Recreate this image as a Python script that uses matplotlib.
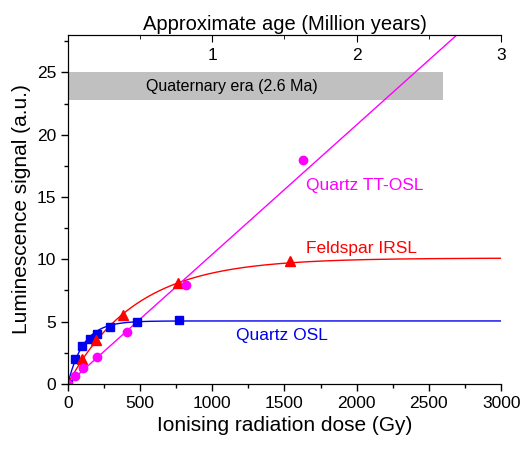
import numpy as np
import matplotlib.pyplot as plt
from matplotlib.ticker import MultipleLocator

plt.rcParams['font.family'] = ['Liberation Sans', 'DejaVu Sans']

# measured points (dose in Gy, signal in a.u.)
osl_dose = [0, 50, 100, 150, 200, 290, 480, 770]
osl_sig = [0, 2.0, 3.0, 3.6, 4.0, 4.55, 5.0, 5.1]

irsl_dose = [0, 95, 195, 385, 765, 1540]
irsl_sig = [0, 2.0, 3.5, 5.5, 8.1, 9.85]

tt_dose = [0, 50, 105, 205, 410, 820, 1630]
tt_sig = [0, 0.65, 1.3, 2.15, 4.2, 7.9, 17.95]

# fitted curve parameters
osl_fit = (5.05, 110.0)     # saturation, D0
irsl_fit = (10.1, 470.0)
tt_slope = 0.0104           # a.u. per Gy

quaternary_end = 2600  # Gy, ~2.6 Ma

D = np.linspace(0, 3000, 600)

fig = plt.figure(figsize=(5.22, 4.5), dpi=100)
ax = fig.add_axes([0.130, 0.147, 0.830, 0.775])

ax.fill_between([0, quaternary_end], 22.8, 25, color='#c0c0c0', lw=0, zorder=0)
ax.text(540, 23.9, 'Quaternary era (2.6 Ma)', fontsize=11.5, va='center', ha='left')

ax.plot(D, osl_fit[0] * (1 - np.exp(-D / osl_fit[1])), color='#0000ee', lw=1)
ax.plot(D, irsl_fit[0] * (1 - np.exp(-D / irsl_fit[1])), color='#ff0000', lw=1)
ax.plot(D, tt_slope * D, color='#ff00ff', lw=1)

ax.plot(osl_dose, osl_sig, 's', color='#0000ee', ms=6)
ax.plot(irsl_dose, irsl_sig, '^', color='#ff0000', ms=7)
ax.plot(tt_dose, tt_sig, 'o', color='#ff00ff', ms=6)

ax.text(1650, 15.9, 'Quartz TT-OSL', color='#ff00ff', fontsize=12.5, va='center')
ax.text(1650, 10.9, 'Feldspar IRSL', color='#ff0000', fontsize=12.5, va='center')
ax.text(1165, 3.85, 'Quartz OSL', color='#0000ee', fontsize=12.5, va='center')

ax.set_xlim(0, 3000)
ax.set_ylim(0, 28)
ax.xaxis.set_major_locator(MultipleLocator(500))
ax.xaxis.set_minor_locator(MultipleLocator(250))
ax.yaxis.set_major_locator(MultipleLocator(5))
ax.yaxis.set_minor_locator(MultipleLocator(2.5))
ax.tick_params(which='both', direction='out', labelsize=12.5, width=1)
ax.tick_params(which='major', length=5)
ax.tick_params(which='minor', length=3)
ax.spines['right'].set_visible(False)
ax.set_xlabel('Ionising radiation dose (Gy)', fontsize=15)
ax.set_ylabel('Luminescence signal (a.u.)', fontsize=15)

top = ax.twiny()
top.set_xlim(0, 3)
top.spines['right'].set_visible(False)
top.xaxis.set_major_locator(MultipleLocator(1))
top.xaxis.set_minor_locator(MultipleLocator(0.5))
top.set_xticks([1, 2, 3])
top.tick_params(which='both', direction='in', labelsize=12.5, pad=-20)
top.tick_params(which='major', length=5)
top.tick_params(which='minor', length=3)
top.set_xlabel('Approximate age (Million years)', fontsize=14.5, labelpad=4)

fig.savefig('out.png', dpi=100)
